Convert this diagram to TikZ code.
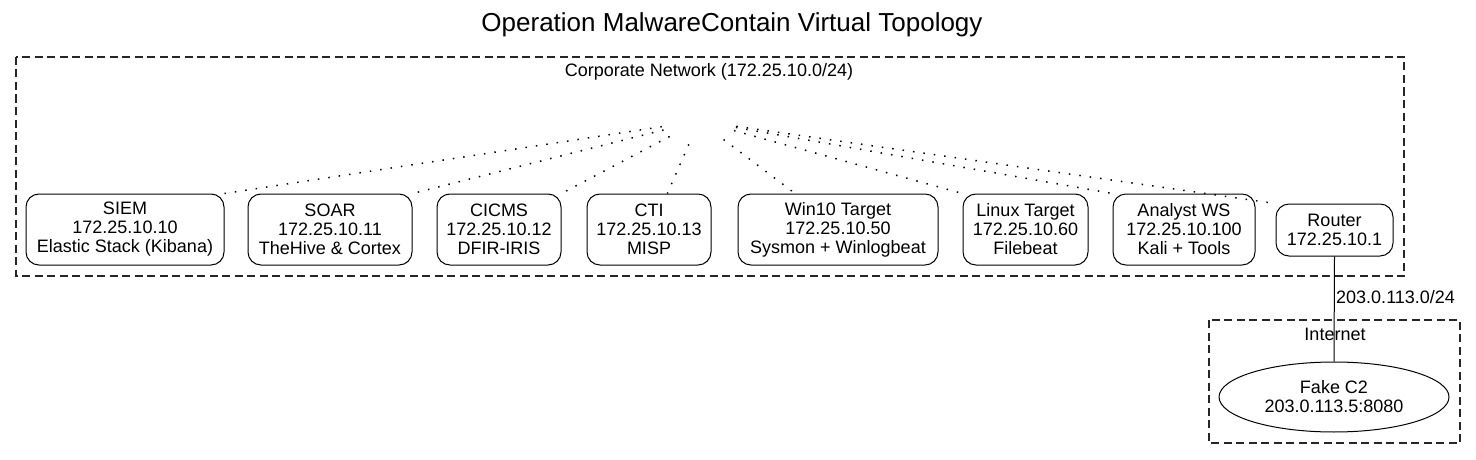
\documentclass[tikz,border=0pt]{standalone}
\usepackage{fontspec}
\setmainfont{Liberation Sans}
\usetikzlibrary{shapes.geometric}
\tikzset{
  x=1pt, y=-1pt,
  hostbox/.style={draw, line width=1pt, rounded corners=13pt, align=center, inner sep=0pt,
    font=\fontsize{18}{19}\selectfont, minimum height=71pt},
  cluster/.style={draw, line width=1.1pt, dash pattern=on 8pt off 4.5pt, black!85},
  dotline/.style={line width=1.5pt, dash pattern=on 1.5pt off 9pt},
  plain/.style={font=\fontsize{18}{19}\selectfont, inner sep=0pt},
}
\begin{document}
\begin{tikzpicture}
\useasboundingbox (0,0) rectangle (1476,460);
\node[font=\fontsize{26}{28}\selectfont, anchor=base, inner sep=0pt] (title) at (732,32) {Operation MalwareContain Virtual Topology};
% clusters
\draw[cluster] (16,57) rectangle (1404,276);
\node[plain, anchor=base] (corplbl) at (709,77) {Corporate Network (172.25.10.0/24)};
\draw[cluster] (1209,320) rectangle (1460,443);
\node[plain, anchor=base] (inetlbl) at (1335,340) {Internet};
% hub
\node[ellipse, minimum width=76pt, minimum height=48pt, inner sep=0pt] (hub) at (699,121) {};
% hosts
\node[hostbox, minimum width=198pt] (siem) at (125,229.5) {SIEM\\172.25.10.10\\Elastic Stack (Kibana)};
\node[hostbox, minimum width=164pt] (soar) at (330,229.5) {SOAR\\172.25.10.11\\TheHive \& Cortex};
\node[hostbox, minimum width=124pt] (cicms) at (499,229.5) {CICMS\\172.25.10.12\\DFIR-IRIS};
\node[hostbox, minimum width=124pt] (cti) at (649,229.5) {CTI\\172.25.10.13\\MISP};
\node[hostbox, minimum width=200pt] (win) at (838,229.5) {Win10 Target\\172.25.10.50\\Sysmon + Winlogbeat};
\node[hostbox, minimum width=125pt] (linux) at (1025.5,229.5) {Linux Target\\172.25.10.60\\Filebeat};
\node[hostbox, minimum width=142pt] (analyst) at (1184,229.5) {Analyst WS\\172.25.10.100\\Kali + Tools};
\node[hostbox, minimum width=117pt, minimum height=52pt] (router) at (1334.5,230) {Router\\172.25.10.1};
\node[draw, ellipse, line width=1pt, minimum width=230pt, minimum height=70pt, inner sep=0pt, align=center,
  font=\fontsize{18}{19}\selectfont] (c2) at (1334,397) {Fake C2\\203.0.113.5:8080};
% dotted links
\draw[dotline] (hub) -- (siem.north east);
\draw[dotline] (hub) -- (soar.north east);
\draw[dotline] (hub) -- (cicms.north east);
\draw[dotline] (hub) -- (cti.63);
\draw[dotline] (hub) -- (win.140);
\draw[dotline] (hub) -- (linux.north west);
\draw[dotline] (hub) -- (analyst.north west);
\draw[dotline] (hub) -- (router.north west);
% uplink
\draw[line width=1pt] (router.south) -- (c2.north);
\node[plain, anchor=base west] (uplbl) at (1336,303) {203.0.113.0/24};
\end{tikzpicture}
\end{document}
